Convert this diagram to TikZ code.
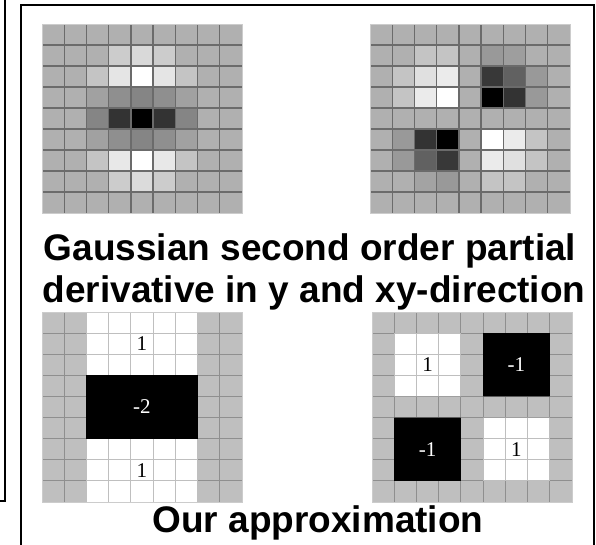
\documentclass[tikz,border=0pt]{standalone}
\usepackage{fontspec}
\setmainfont{Liberation Serif}
\newfontfamily\capfont{Liberation Sans}
\usepackage{tikz}
\tikzset
{
  boxline/.style={draw=black,line width=2pt},
  cellgrid/.style={draw=white!42!black,line width=1.4pt},
  kernelgrid/.style={draw=black,draw opacity=0.25,line width=1pt},
  gridedge/.style={draw=white!80!black,line width=0.6pt},
  caption/.style={font=\capfont\bfseries\fontsize{37}{42}\selectfont,anchor=base,inner sep=0pt},
  weight/.style={font=\fontsize{21}{21}\selectfont,inner sep=0pt}
}

\begin{document}
\begin{tikzpicture}[x=1pt,y=-1pt]
        \useasboundingbox (0,0) rectangle (596,545);

        % Frames
        \draw[boxline] (-10,501) -- (4.5,501) -- (4.5,-10);
        \draw[boxline] (21,555) -- (21,5) -- (594,5) -- (594,555);

        % Gaussian second derivative in y
        \begin{scope}[shift={(42,24)},x=22.22pt,y=-21pt]
            \foreach \row [count=\r from 0] in {
                {69,69,69,69,69,69,69,69,69},
                {69,69,69,80,85,80,69,69,69},
                {69,69,77,90,100,90,77,69,69},
                {69,69,63,56,52,56,63,69,69},
                {69,69,52,20,0,20,52,69,69},
                {69,69,63,56,52,56,63,69,69},
                {69,69,77,91,100,91,77,69,69},
                {69,69,69,80,86,80,69,69,69},
                {69,69,69,69,69,69,69,69,69}}
                \foreach \v [count=\c from 0] in \row
                    \fill[white!\v!black] (\c,\r) rectangle ++(1,1);
            \draw[cellgrid] \foreach \i in {1,...,8} {(\i,0) -- (\i,9) (0,\i) -- (9,\i)};
            \draw[gridedge] (0,0) rectangle (9,9);
        \end{scope}

        % Gaussian second derivative in xy
        \begin{scope}[shift={(370,24)},x=22.22pt,y=-21pt]
            \foreach \row [count=\r from 0] in {
                {69,69,69,69,69,69,69,69,69},
                {69,69,77,77,69,60,62,69,69},
                {69,77,88,92,69,22,38,60,69},
                {69,77,92,100,69,0,20,60,69},
                {69,69,69,69,69,69,69,69,69},
                {69,60,20,0,69,100,92,77,69},
                {69,60,38,22,69,92,88,77,69},
                {69,69,64,60,69,77,77,69,69},
                {69,69,69,69,69,69,69,69,69}}
                \foreach \v [count=\c from 0] in \row
                    \fill[white!\v!black] (\c,\r) rectangle ++(1,1);
            \draw[cellgrid] \foreach \i in {1,...,8} {(\i,0) -- (\i,9) (0,\i) -- (9,\i)};
            \draw[gridedge] (0,0) rectangle (9,9);
        \end{scope}

        \node[caption] (title1) at (310,260) {Gaussian second order partial};
        \node[caption] (title2) at (314,302) {derivative in y and xy-direction};

        % Box filter approximation in y
        \begin{scope}[shift={(42,312)},x=22.22pt,y=-21.1pt]
            \fill[white!75!black] (0,0) rectangle (9,9);
            \fill[white] (2,0) rectangle (7,9);
            \draw[kernelgrid] \foreach \i in {1,...,8} {(\i,0) -- (\i,9) (0,\i) -- (9,\i)};
            \draw[gridedge] (0,0) rectangle (9,9);
            \fill[black] (2,3) rectangle (7,6);
            \node[weight] (yytop) at (4.5,1.5) {1};
            \node[weight,text=white] (yymid) at (4.5,4.5) {-2};
            \node[weight] (yybot) at (4.5,7.5) {1};
        \end{scope}

        % Box filter approximation in xy
        \begin{scope}[shift={(372,312)},x=22.22pt,y=-21.1pt]
            \fill[white!75!black] (0,0) rectangle (9,9);
            \fill[white] (1,1) rectangle (4,4) (5,5) rectangle (8,8);
            \draw[kernelgrid] \foreach \i in {1,...,8} {(\i,0) -- (\i,9) (0,\i) -- (9,\i)};
            \draw[gridedge] (0,0) rectangle (9,9);
            \fill[black] (5,1) rectangle (8,4) (1,5) rectangle (4,8);
            \node[weight] (xyul) at (2.5,2.5) {1};
            \node[weight,text=white] (xyur) at (6.5,2.5) {-1};
            \node[weight,text=white] (xyll) at (2.5,6.5) {-1};
            \node[weight] (xylr) at (6.5,6.5) {1};
        \end{scope}

        \node[caption] (approx) at (318,532) {Our approximation};
\end{tikzpicture}
\end{document}
